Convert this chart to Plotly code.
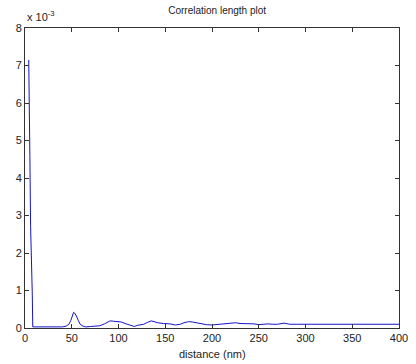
import plotly.graph_objects as go

# distance (nm)
distance = [4, 4.6, 5.2, 6, 7, 7.8, 8.3, 10, 15, 20, 25, 30, 35, 40, 44, 47, 49, 51, 52, 53, 55, 57, 59, 62, 65,
            70, 75, 80, 85, 88, 91, 95, 99, 103, 107, 111, 115, 117, 120, 124, 127, 131, 135, 138, 142, 148,
            155, 161, 166, 170, 175, 179, 184, 189, 194, 200, 206, 211, 217, 221, 225, 230, 235, 240, 245,
            250, 255, 260, 265, 270, 277, 283, 290, 300, 320, 340, 360, 380, 400]
# correlation values (x 1e-3)
corr = [7.15, 6.25, 4.6, 2.7, 0.9, 0.9, 0.03, 0.03, 0.02, 0.03, 0.02, 0.02, 0.03, 0.03, 0.05, 0.1, 0.2, 0.36, 0.42, 0.4, 0.32, 0.2, 0.1, 0.05, 0.03,
        0.04, 0.04, 0.06, 0.11, 0.16, 0.19, 0.18, 0.17, 0.16, 0.12, 0.08, 0.05, 0.04, 0.07, 0.08, 0.1, 0.15, 0.19, 0.17, 0.14, 0.12,
        0.11, 0.08, 0.1, 0.14, 0.17, 0.16, 0.13, 0.1, 0.09, 0.08, 0.09, 0.1, 0.12, 0.13, 0.14, 0.12, 0.12, 0.1, 0.11,
        0.09, 0.1, 0.11, 0.1, 0.1, 0.13, 0.1, 0.1, 0.1, 0.1, 0.1, 0.1, 0.1, 0.1]

x_ticks = [0, 50, 100, 150, 200, 250, 300, 350, 400]
y_ticks = [0, 1, 2, 3, 4, 5, 6, 7, 8]

fig = go.Figure()
fig.add_trace(go.Scatter(x=distance, y=corr, mode="lines",
                         line=dict(color="#1414c8", width=1), showlegend=False))

axis_common = dict(showline=True, linecolor="#333333", linewidth=1, mirror="allticks",
                   ticks="inside", ticklen=4, tickcolor="#333333", showgrid=False, zeroline=False,
                   ticklabeloverflow="allow",
                   tickfont=dict(family="Liberation Sans, Arial, sans-serif", size=11, color="#222222"))

fig.update_layout(
    width=416, height=364,
    margin=dict(l=25, r=8, t=28, b=36),
    paper_bgcolor="white", plot_bgcolor="white",
    xaxis=dict(range=[0, 400], tickvals=x_ticks, **axis_common),
    yaxis=dict(range=[0, 8], tickvals=y_ticks, **axis_common),
    title=dict(text="Correlation length plot", x=0.522, xanchor="center", y=1 - 10 / 364, yanchor="middle",
               font=dict(family="Liberation Sans, Arial, sans-serif", size=10, color="#222222")),
    annotations=[
        dict(text="distance (nm)", xref="paper", yref="paper", x=0.5, y=-26 / 300, xanchor="center",
             yanchor="middle", showarrow=False,
             font=dict(family="Liberation Sans, Arial, sans-serif", size=11, color="#222222")),
        dict(text="x 10<sup>-3</sup>", xref="paper", yref="paper", x=0.0, y=1 + 12 / 300, xanchor="left",
             yanchor="middle", showarrow=False,
             font=dict(family="Liberation Sans, Arial, sans-serif", size=11, color="#222222")),
    ],
)

fig.write_html("out.html")
